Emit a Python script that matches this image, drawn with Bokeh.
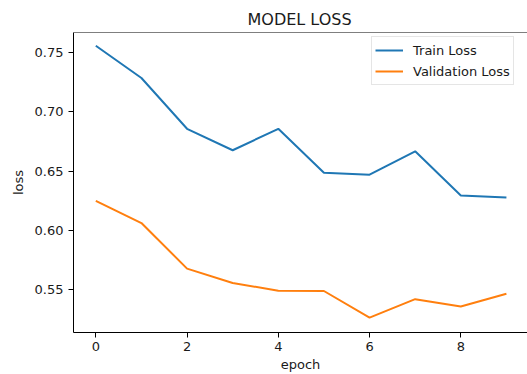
from bokeh.plotting import figure
from bokeh.models import Range1d, FixedTicker, PrintfTickFormatter, Legend, LegendItem, Span
from bokeh.embed import file_html
from bokeh.resources import INLINE

epochs = [0, 1, 2, 3, 4, 5, 6, 7, 8, 9]
train_loss = [0.7557, 0.7285, 0.6857, 0.6676, 0.6857, 0.6486, 0.6470, 0.6667, 0.6294, 0.6277]
val_loss = [0.6249, 0.6062, 0.5678, 0.5556, 0.5492, 0.5489, 0.5265, 0.5420, 0.5358, 0.5466]
x_ticks = [0, 2, 4, 6, 8]
y_ticks = [0.55, 0.60, 0.65, 0.70, 0.75]

FONT = "DejaVu Sans"
TXT = "#1a1a1a"

y_start, y_end = 0.5139, 0.7669
p = figure(width=527, height=374, output_backend="svg", toolbar_location=None,
           x_range=Range1d(-0.489, 9.462), y_range=Range1d(y_start, y_end),
           min_border_left=73, min_border_right=0, min_border_top=32, min_border_bottom=10)

p.title.text = "MODEL LOSS"
p.title.text_font = FONT
p.title.text_font_size = "16px"
p.title.text_font_style = "normal"
p.title.text_color = TXT
p.title.align = "left"
p.title.offset = 174
p.title.standoff = 7

r1 = p.line(epochs, train_loss, line_color="#1f77b4", line_width=2)
r2 = p.line(epochs, val_loss, line_color="#ff7f0e", line_width=2)

p.xgrid.visible = False
p.ygrid.visible = False
p.outline_line_color = None

for ax in (p.xaxis[0], p.yaxis[0]):
    ax.axis_line_color = "black"
    ax.axis_line_width = 1
    ax.major_tick_line_color = "black"
    ax.major_tick_out = 5
    ax.major_tick_in = 0
    ax.minor_tick_line_color = None
    ax.major_label_text_font = FONT
    ax.major_label_text_font_size = "13px"
    ax.major_label_text_color = TXT
    ax.major_label_standoff = 5
    ax.axis_label_text_font = FONT
    ax.axis_label_text_font_size = "13px"
    ax.axis_label_text_font_style = "normal"
    ax.axis_label_text_color = TXT

p.xaxis.ticker = FixedTicker(ticks=x_ticks)
p.yaxis.ticker = FixedTicker(ticks=y_ticks)
p.yaxis.formatter = PrintfTickFormatter(format="%.2f")
p.xaxis.axis_label = "epoch"
p.yaxis.axis_label = "loss"
p.xaxis.major_label_standoff = 4
p.xaxis.axis_label_standoff = 3
p.yaxis.axis_label_standoff = 6

top_spine = Span(location=y_end, dimension="width", line_color="black", line_width=1)
p.add_layout(top_spine)

legend = Legend(items=[LegendItem(label="Train Loss", renderers=[r1]),
                       LegendItem(label="Validation Loss", renderers=[r2])],
                location=(298, 247))
legend.label_text_font = FONT
legend.label_text_font_size = "13px"
legend.label_text_color = TXT
legend.glyph_width = 28
legend.glyph_height = 20
legend.label_height = 20
legend.label_standoff = 10
legend.spacing = 1
legend.padding = 3
legend.margin = 0
legend.border_line_color = "#cccccc"
legend.border_line_width = 1
legend.background_fill_alpha = 0.8
p.add_layout(legend)

open("out.html", "w").write(file_html(p, INLINE))
